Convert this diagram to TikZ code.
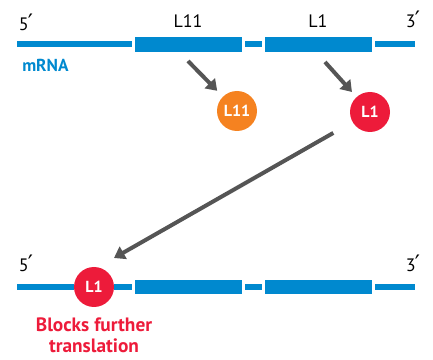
\documentclass[tikz,border=0pt]{standalone}
\usepackage{fontspec}
\setmainfont{PT Sans}
\newfontfamily\primefont{DejaVu Sans}
\usepackage{xcolor}
\usetikzlibrary{arrows.meta,positioning}

\definecolor{rnablue}{RGB}{0,137,207}
\definecolor{lorange}{RGB}{245,130,32}
\definecolor{lred}{RGB}{237,27,58}
\definecolor{arrgray}{RGB}{85,85,85}

\newcommand{\pr}{{\primefont\fontsize{17}{17}\selectfont\kern-0.5pt′}}

\tikzset{
 rna/.style={rnablue,line width=4.5pt},
 gene/.style={rectangle,fill=rnablue,draw=white,line width=1.2pt,minimum width=82pt,minimum height=12pt,inner sep=0pt},
 prot/.style={circle,fill=#1,minimum size=30pt,inner sep=0pt,text=white,font=\bfseries\fontsize{12}{14}\selectfont},
 arr/.style={arrgray,line width=3pt,-{Triangle[length=8pt,width=10.5pt]}},
 endlbl/.style={anchor=base,font=\fontsize{13.5}{15}\selectfont,inner sep=0pt},
}

\begin{document}
\begin{tikzpicture}[x=0.75pt,y=-0.75pt]
 \useasboundingbox (0,0) rectangle (433,360);
 % top mRNA
 \coordinate (t5) at (17,44.5);
 \coordinate (t3) at (415,44.5);
 \node[gene] (g11) at (188.5,44.5) {};
 \node[gene] (g1) at (318.5,44.5) {};
 \draw[rna,shorten >=1pt] (t5) -- (g11);
 \draw[rna,shorten <=1pt,shorten >=1pt] (g11) -- (g1);
 \draw[rna,shorten <=1pt] (g1) -- (t3);
 \node[endlbl] at (26,31) {5\pr};
 \node[endlbl] at (413,28) {3\pr};
 \node[endlbl] at (188,28) {L11};
 \node[endlbl] at (318,28) {L1};
 \node[anchor=base west,inner sep=0pt,text=rnablue,font=\bfseries\fontsize{13}{14}\selectfont] (mrna) at (22,72) {mRNA};
 % free proteins
 \node[prot=lorange] (p11) at (237,111) {L11};
 \node[prot=lred] (p1) at (370,112) {L1};
 \coordinate (a11) at (188,61);
 \coordinate (a1) at (325,62);
 \draw[arr,shorten >=6pt] (a11) -- (p11);
 \draw[arr,shorten >=5pt] (a1) -- (p1);
 % bottom mRNA with bound L1
 \coordinate (b5) at (17,287);
 \coordinate (b3) at (415,287);
 \node[prot=lred] (q1) at (94,287) {L1};
 \node[gene] (h11) at (188.5,287) {};
 \node[gene] (h1) at (318.5,287) {};
 \draw[rna] (b5) -- (q1);
 \draw[rna,shorten >=1pt] (q1) -- (h11);
 \draw[rna,shorten <=1pt,shorten >=1pt] (h11) -- (h1);
 \draw[rna,shorten <=1pt] (h1) -- (b3);
 \node[endlbl] at (26,272) {5\pr};
 \node[endlbl] at (413,272) {3\pr};
 \coordinate (tip) at (114,258);
 \draw[arr,shorten <=16.5pt] (p1) -- (tip);
 \node[below=8pt of q1,align=center,text=lred,font=\bfseries\fontsize{14.5}{15.5}\selectfont,inner sep=0pt] (blk) {Blocks further\\translation};
\end{tikzpicture}
\end{document}
